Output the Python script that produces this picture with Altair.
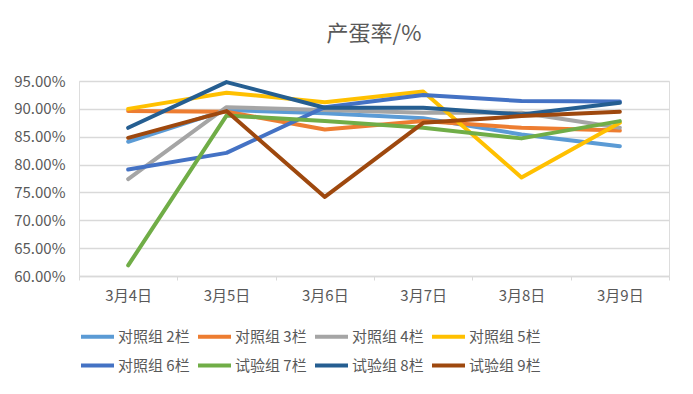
import altair as alt
import pandas as pd

dates = ["3月4日", "3月5日", "3月6日", "3月7日", "3月8日", "3月9日"]
series_names = ["对照组 2栏", "对照组 3栏", "对照组 4栏", "对照组 5栏",
                "对照组 6栏", "试验组 7栏", "试验组 8栏", "试验组 9栏"]
s2 = [0.841, 0.898, 0.892, 0.883, 0.854, 0.833]
s3 = [0.896, 0.895, 0.863, 0.878, 0.866, 0.861]
s4 = [0.774, 0.903, 0.898, 0.893, 0.893, 0.866]
s5 = [0.900, 0.929, 0.912, 0.931, 0.777, 0.875]
s6 = [0.791, 0.821, 0.903, 0.925, 0.914, 0.913]
s7 = [0.619, 0.888, 0.878, 0.866, 0.847, 0.878]
s8 = [0.866, 0.948, 0.902, 0.902, 0.890, 0.911]
s9 = [0.848, 0.896, 0.742, 0.875, 0.887, 0.895]
colors = ["#5B9BD5", "#ED7D31", "#A5A5A5", "#FFC000",
          "#4472C4", "#70AD47", "#255E91", "#9E480E"]

all_series = [s2, s3, s4, s5, s6, s7, s8, s9]
rows = []
for i, (name, vals) in enumerate(zip(series_names, all_series)):
    for d, v in zip(dates, vals):
        rows.append({"date": d, "series": name, "value": v, "order": i})
df = pd.DataFrame(rows)

FONT = "Noto Sans CJK SC"
GRAY = "#595959"

chart = alt.Chart(df).mark_line(strokeWidth=4, strokeCap="round", strokeJoin="round").encode(
    x=alt.X("date:N", sort=dates, bandPosition=0.5,
            scale=alt.Scale(type="band", paddingInner=0, paddingOuter=0),
            axis=alt.Axis(title=None, labelAngle=0, tickBand="extent", labelFontSize=15,
                          labelColor=GRAY, labelFont=FONT, domainColor="#D9D9D9", domainWidth=1.3,
                          tickColor="#D9D9D9", tickSize=4, labelPadding=8, grid=False)),
    y=alt.Y("value:Q", scale=alt.Scale(domain=[0.6, 0.95], nice=False, zero=False),
            axis=alt.Axis(title=None, format=".2%", values=[0.6, 0.65, 0.7, 0.75, 0.8, 0.85, 0.9, 0.95],
                          labelFontSize=15, labelColor=GRAY, labelFont=FONT, domain=False,
                          ticks=False, gridColor="#D9D9D9", gridWidth=1.3, labelPadding=14)),
    color=alt.Color("series:N", sort=series_names,
                    scale=alt.Scale(domain=series_names, range=colors),
                    legend=alt.Legend(title=None, orient="bottom", columns=4, symbolType="stroke",
                                      symbolSize=1089, symbolStrokeWidth=4, labelFontSize=15,
                                      labelColor=GRAY, labelFont=FONT, columnPadding=0,
                                      rowPadding=2, offset=15, labelLimit=200, labelOffset=2)),
    order=alt.Order("order:Q"),
    detail="series:N",
).properties(
    width=590, height=195,
    title=alt.TitleParams("产蛋率/%", fontSize=22, font=FONT, color=GRAY, fontWeight="normal",
                          anchor="middle", offset=28),
    padding={"left": 5, "top": 15, "right": 10, "bottom": 5},
).configure_view(stroke=None).configure(background="white")

chart.save("out.html", embed_options={"renderer": "svg", "actions": False})
